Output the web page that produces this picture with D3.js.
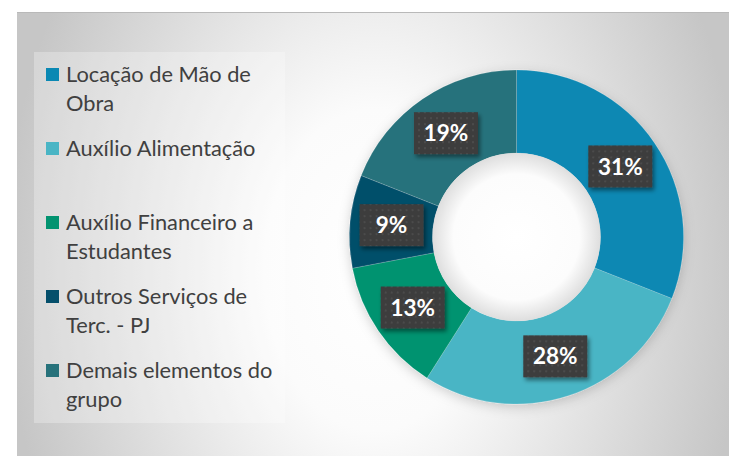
<!DOCTYPE html>
<html>
<head>
<meta charset="utf-8">
<script src="https://cdn.jsdelivr.net/npm/d3@7"></script>
<style>
  html, body { margin: 0; padding: 0; background: #ffffff; }
  svg { display: block; }
</style>
</head>
<body>
<svg id="chart" width="729" height="456"></svg>
<script>
// Expense composition by budget element
const categories = [
  "Locação de Mão de Obra",
  "Auxílio Alimentação",
  "Auxílio Financeiro a Estudantes",
  "Outros Serviços de Terc. - PJ",
  "Demais elementos do grupo"
];
const legendLines = [
  ["Locação de Mão de", "Obra"],
  ["Auxílio Alimentação"],
  ["Auxílio Financeiro a", "Estudantes"],
  ["Outros Serviços de", "Terc. - PJ"],
  ["Demais elementos do", "grupo"]
];
const shares = [31, 28, 13, 9, 19];
const colors = ["#0a88b3", "#4ab5c5", "#029370", "#054f6b", "#27727b"];

const W = 729, H = 456;
const svg = d3.select("#chart");
const defs = svg.append("defs");

// chart area background: soft radial shading
const bg = defs.append("radialGradient")
  .attr("id", "bgGrad")
  .attr("gradientUnits", "userSpaceOnUse")
  .attr("cx", 375).attr("cy", 270).attr("r", 370)
  .attr("gradientTransform", "translate(375,270) scale(1,1.45) translate(-375,-270)");
bg.append("stop").attr("offset", 0).attr("stop-color", "#ffffff");
bg.append("stop").attr("offset", 0.3).attr("stop-color", "#fbfbfb");
bg.append("stop").attr("offset", 1).attr("stop-color", "#c6c6c6");

// donut hole shading
const hole = defs.append("radialGradient").attr("id", "holeGrad");
hole.append("stop").attr("offset", 0).attr("stop-color", "#ffffff");
hole.append("stop").attr("offset", 0.75).attr("stop-color", "#fcfcfc");
hole.append("stop").attr("offset", 1).attr("stop-color", "#dedede");

// dotted texture for value labels
const pat = defs.append("pattern")
  .attr("id", "dots").attr("patternUnits", "userSpaceOnUse")
  .attr("width", 6).attr("height", 6);
pat.append("rect").attr("width", 6).attr("height", 6).attr("fill", "#3c3c3c");
pat.append("circle").attr("cx", 3).attr("cy", 3).attr("r", 0.9).attr("fill", "#545454");

const lblShadow = defs.append("filter").attr("id", "lblShadow")
  .attr("x", "-20%").attr("y", "-20%").attr("width", "150%").attr("height", "160%");
lblShadow.append("feDropShadow").attr("dx", 2).attr("dy", 3)
  .attr("stdDeviation", 2).attr("flood-color", "#000").attr("flood-opacity", 0.45);

const donutShadow = defs.append("filter").attr("id", "donutShadow")
  .attr("x", "-20%").attr("y", "-20%").attr("width", "140%").attr("height", "140%");
donutShadow.append("feDropShadow").attr("dx", 0).attr("dy", 3)
  .attr("stdDeviation", 6).attr("flood-color", "#000").attr("flood-opacity", 0.18);

// chart area
svg.append("rect").attr("x", 17).attr("y", 12).attr("width", W - 17).attr("height", H - 12)
  .attr("fill", "url(#bgGrad)");
svg.append("line").attr("x1", 17).attr("x2", W).attr("y1", 12.5).attr("y2", 12.5)
  .attr("stroke", "#b9b9b9").attr("stroke-width", 1);

// legend
const legend = svg.append("g");
legend.append("rect").attr("x", 34).attr("y", 52).attr("width", 251).attr("height", 371)
  .attr("fill", "#ffffff").attr("fill-opacity", 0.28);

const legendY = d3.scaleLinear().domain([0, 4]).range([82, 378]);
const items = legend.selectAll("g.item").data(categories).join("g").attr("class", "item")
  .attr("transform", (d, i) => `translate(0,${legendY(i)})`);
items.append("rect").attr("x", 46).attr("y", -14).attr("width", 13).attr("height", 13)
  .attr("fill", (d, i) => colors[i]);
items.append("text")
  .attr("x", 66)
  .attr("font-family", "Lato, 'Open Sans', sans-serif")
  .attr("font-size", 21.8)
  .attr("fill", "#404040")
  .selectAll("tspan").data((d, i) => legendLines[i]).join("tspan")
  .attr("x", 66).attr("y", (d, j) => j * 28.5)
  .text(d => d);

// donut
const cx = 516.5, cy = 237, rOuter = 167, rInner = 84;
const pie = d3.pie().sort(null).value(d => d)(shares);
const arc = d3.arc().innerRadius(rInner).outerRadius(rOuter);
const g = svg.append("g").attr("transform", `translate(${cx},${cy})`);

g.append("g").attr("filter", "url(#donutShadow)")
  .selectAll("path").data(pie).join("path")
  .attr("d", arc)
  .attr("fill", (d, i) => colors[i])
  .attr("stroke", "#ffffff").attr("stroke-opacity", 0.25).attr("stroke-width", 0.6);

g.append("circle").attr("r", rInner).attr("fill", "url(#holeGrad)");

// value labels
const labels = g.selectAll("g.lbl").data(pie).join("g").attr("class", "lbl")
  .attr("transform", d => `translate(${arc.centroid(d)})`);
labels.append("rect").attr("x", -32).attr("y", -21).attr("width", 64).attr("height", 42)
  .attr("fill", "url(#dots)").attr("filter", "url(#lblShadow)");
labels.append("text")
  .attr("text-anchor", "middle").attr("dy", "0.36em")
  .attr("font-family", "Lato, 'Open Sans', sans-serif")
  .attr("font-weight", 700).attr("font-size", 22.5)
  .attr("fill", "#ffffff")
  .text(d => d.data + "%");
</script>
</body>
</html>
